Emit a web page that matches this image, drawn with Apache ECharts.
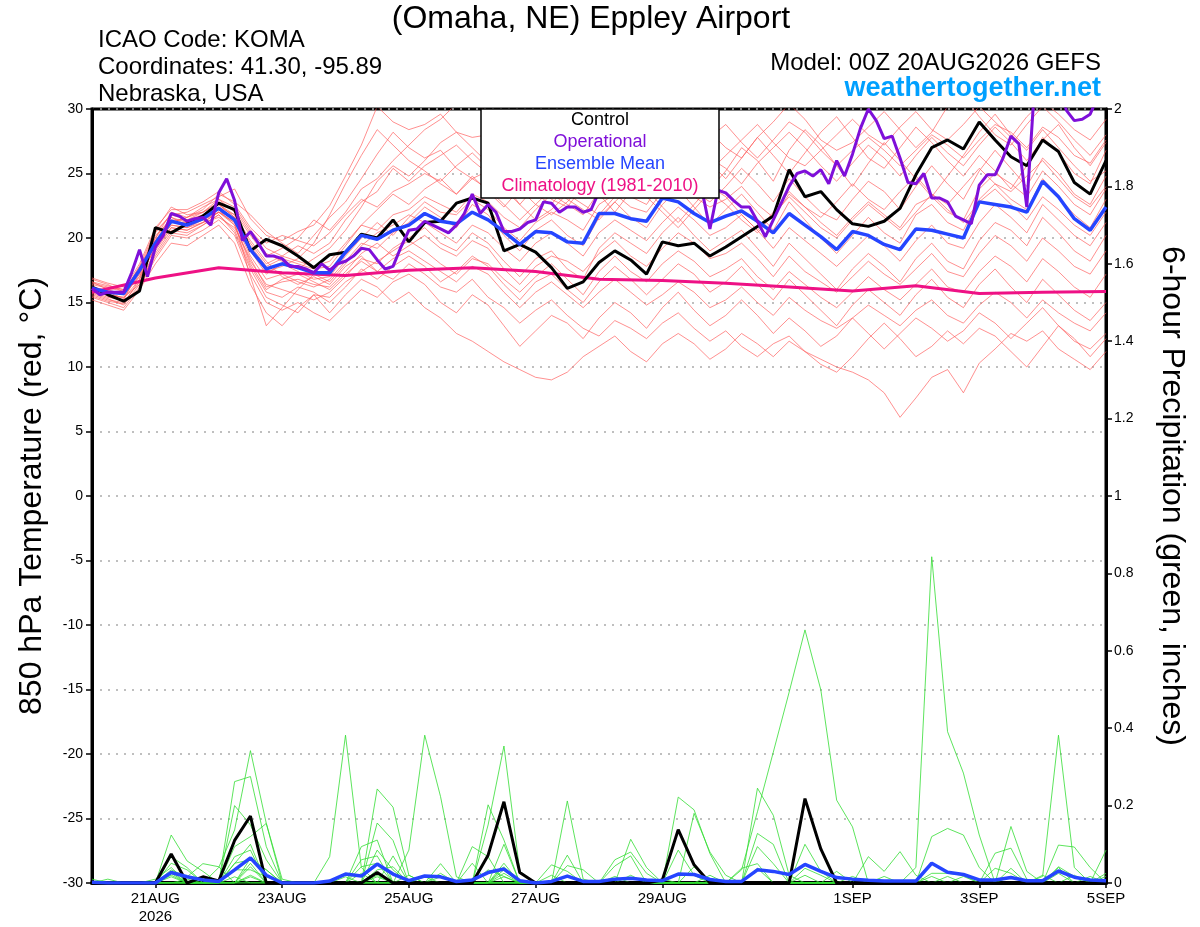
<!DOCTYPE html>
<html><head><meta charset="utf-8">
<script src="https://cdn.jsdelivr.net/npm/echarts@6/dist/echarts.min.js"></script>
<style>html,body{margin:0;padding:0;background:#fff;}#c{width:1200px;height:927px;}</style>
</head><body><div id="c"></div>
<script>
// ---------- time axis (hours after 00Z 20AUG2026) ----------
const hours6 = Array.from({length: 65}, (_, k) => k * 6);
const hours3 = Array.from({length: 129}, (_, k) => k * 3);
const climHours = Array.from({length: 17}, (_, k) => k * 24);
const xTickHours = [24, 72, 120, 168, 216, 288, 336, 384];
const xTickLabels = ['21AUG\n2026', '23AUG', '25AUG', '27AUG', '29AUG', '1SEP', '3SEP', '5SEP'];

// ---------- 850 hPa temperature (C) ----------
const controlTemp = [16.2,15.6,15.1,15.9,20.8, 20.4,21.1,21.7,22.7,22.2, 19.0,19.9,19.4,18.6,17.7, 18.7,18.9,20.3,20.0,21.4, 19.7,21.2,21.3,22.7,23.1, 22.7,19.0,19.5,18.9,17.7, 16.1,16.6,18.1,19.0,18.3, 17.2,19.7,19.4,19.6,18.6, 19.3,20.1,20.9,21.7,25.3, 23.2,23.6,22.2,21.1,20.9, 21.3,22.3,24.9,27.0,27.6, 26.9,29.0,27.6,26.3,25.6, 27.6,26.7,24.3,23.4,26.0];
const meanTemp = [16.1,15.8,15.7,17.5,19.6, 21.3,21.0,21.5,22.3,21.4, 19.1,17.6,18.0,17.7,17.3, 17.3,18.9,20.2,19.9,20.6, 21.0,21.9,21.3,21.1,22.0, 21.4,20.5,19.5,20.5,20.4, 19.7,19.6,21.9,21.9,21.5, 21.3,23.1,22.8,21.9,21.2, 21.7,22.1,21.3,20.4,21.9, 21.0,20.1,19.1,20.5,20.2, 19.5,19.1,20.7,20.6,20.3, 20.0,22.8,22.6,22.4,22.0, 24.4,23.2,21.5,20.6,22.4];
const operationalTemp = [16.1,15.6,15.8,15.8,15.8,17.3,19.1,17.0,19.3,20.2, 21.9,21.7,21.3,21.5,21.6,21.0,23.5,24.6,22.9,19.8, 20.5,19.6,18.6,18.6,18.4,17.8,17.8,17.6,17.3,18.0, 17.5,18.0,18.2,18.6,19.2,19.1,18.3,17.6,17.8,19.3, 20.6,20.7,21.3,21.0,20.7,20.4,21.0,21.9,23.4,21.9, 22.6,22.0,20.5,20.5,20.7,21.2,21.4,22.8,22.7,22.0, 22.4,22.4,22.0,22.2,23.6,24.0,24.5,24.8,24.3,24.6, 25.0,24.7,24.2,24.5,24.8,24.4,24.0,23.7,20.7,23.7, 23.5,22.9,22.4,22.4,21.3,20.1,21.4,22.7,24.0,25.0, 25.2,24.8,25.3,24.2,26.0,24.8,26.5,28.5,30.0,29.1, 27.7,27.9,26.2,24.3,24.2,25.0,23.1,23.1,22.8,21.7, 21.4,21.1,24.1,24.9,24.9,26.2,27.9,27.3,22.4,32.0, 33.0,33.0,32.0,29.9,29.1,29.2,29.6,31.0,31.5];
const climatologyTemp = [15.8,16.9,17.7,17.3,17.1,17.5,17.7,17.4,16.8,16.7,16.5,16.2,15.9,16.3,15.7,15.8,15.85];

const tempM01 = [16.5,16.2,16.0,17.2,20.5, 21.8,22.0,22.6,23.2,23.8, 21.5,20.2,19.8,20.5,21.0, 22.5,24.8,27.2,30.2,29.0, 28.4,28.8,29.6,28.2,27.8, 28.0,26.5,27.2,25.6,24.8, 26.0,27.5,28.8,27.6,26.4, 25.8,27.4,28.6,29.8,28.2, 27.0,26.2,27.8,29.0,30.4, 29.2,27.6,26.8,27.4,28.6, 29.8,28.4,27.0,28.2,30.2, 31.0,29.4,28.0,27.2,28.8, 30.2,29.0,27.6,26.4,28.0];
const tempM02 = [15.8,15.4,15.2,16.0,19.2, 21.2,21.6,22.2,23.4,22.8, 21.8,20.5,19.6,18.8,20.2, 21.6,22.8,24.6,26.5,28.2, 27.0,26.2,26.8,25.4,24.6, 25.2,23.8,22.6,24.0,25.6, 26.8,25.4,24.2,26.0,28.4, 29.6,30.4,28.8,27.2,25.8, 24.6,26.2,27.8,26.4,25.0, 26.6,28.2,29.4,27.8,26.2, 25.4,27.0,28.6,27.4,26.0, 24.8,26.4,25.2,23.8,25.6, 27.8,26.6,25.0,24.2,26.8];
const tempM03 = [16.8,16.4,15.8,17.8,20.6, 22.4,21.8,22.0,23.0,22.0, 20.2,18.6,19.2,20.0,21.4, 20.6,22.0,23.8,24.6,26.0, 27.2,28.4,29.2,30.4,30.8, 29.6,27.8,25.4,24.2,23.0, 22.4,24.0,25.6,24.8,23.2, 22.6,24.4,26.2,25.0,23.8, 25.2,27.0,26.0,24.4,26.8, 28.4,27.2,25.6,24.0,25.8, 27.4,26.0,24.6,23.2,24.8, 26.4,28.2,29.6,28.0,26.8, 28.4,27.0,25.6,24.4,25.2];
const tempM04 = [16.2,15.9,15.6,17.0,19.8, 21.6,21.2,21.8,22.6,21.6, 19.4,17.8,18.4,18.0,17.6, 17.8,19.4,21.0,22.2,23.4, 22.6,23.8,24.6,23.4,24.8, 23.6,22.4,23.8,22.6,21.8, 22.8,24.2,23.4,22.0,23.6, 24.8,26.2,25.0,23.6,22.8, 24.0,25.4,24.2,22.8,24.6, 23.2,22.0,21.4,23.0,24.4, 23.6,22.2,24.0,25.6,24.2, 23.0,25.2,26.8,25.4,24.0, 26.2,25.0,23.4,22.6,24.8];
const tempM05 = [15.6,15.2,15.0,16.6,19.0, 20.8,20.6,21.2,22.0,21.2, 18.6,16.8,17.2,16.6,16.2, 16.8,18.2,19.6,19.2,20.4, 21.2,22.4,21.6,20.8,22.6, 21.8,20.2,19.0,20.6,21.4, 20.2,19.4,21.6,22.8,21.6, 20.8,22.6,23.8,22.4,21.0, 22.2,23.4,22.0,20.6,22.8, 21.4,20.0,18.8,20.2,21.6, 20.4,19.6,21.8,22.6,21.2, 20.6,23.0,24.2,23.0,22.2, 24.6,23.2,21.8,20.8,23.0];
const tempM06 = [16.0,15.5,15.2,17.6,19.4, 21.0,20.8,21.4,22.2,21.0, 18.2,16.4,16.0,15.6,15.2, 15.8,17.0,18.4,18.0,19.2, 20.0,20.8,19.6,19.0,20.4, 19.6,18.2,17.0,18.4,19.0, 17.6,16.8,19.2,20.4,19.6, 18.8,20.4,21.6,20.2,19.0, 19.8,20.6,19.2,17.8,19.6, 18.4,17.2,16.0,17.6,18.8, 17.8,16.6,18.4,19.6,18.2, 17.6,19.8,21.2,20.6,19.4, 21.6,20.4,19.0,18.2,20.2];
const tempM07 = [15.4,15.0,14.6,16.2,18.4, 20.2,20.0,20.6,21.4,20.2, 17.2,15.0,14.4,15.0,14.2, 13.6,14.8,16.0,15.4,16.6, 17.2,16.4,15.0,14.2,15.6, 14.8,13.2,11.6,12.8,14.0, 13.4,12.2,13.8,15.0,14.2, 13.0,14.6,15.8,14.4,13.2, 14.0,15.2,14.0,12.6,13.8, 12.8,11.6,12.4,13.8,12.6, 11.4,12.6,13.8,13.0,12.0, 12.8,14.2,13.4,12.2,13.4, 14.6,13.2,12.0,11.4,12.6];
const tempM08 = [15.2,14.8,14.4,16.0,18.0, 19.6,19.4,20.2,21.0,19.6, 16.4,14.2,13.2,14.6,15.6, 14.2,15.6,16.8,16.2,15.0, 15.8,14.6,13.8,12.6,12.0, 11.2,10.4,9.8,9.2,9.0, 9.6,10.8,11.6,12.4,11.2, 10.4,11.8,12.6,11.8,10.6, 11.4,12.6,11.8,10.8,12.0, 11.2,10.2,9.6,10.8,12.2, 13.4,12.2,10.8,11.6,12.8, 11.8,13.0,12.4,11.2,10.0, 11.6,13.2,12.2,10.8,12.2];
const tempM09 = [16.6,16.0,15.6,17.4,20.2, 21.4,21.0,21.6,22.4,21.8, 19.8,18.2,17.0,16.4,17.0, 16.4,17.8,18.6,17.4,16.8, 18.0,17.2,16.2,15.8,16.8, 15.4,14.6,13.4,14.4,15.2, 14.0,13.0,12.4,13.6,13.0, 12.2,13.4,14.2,13.0,12.0, 12.8,11.6,10.8,11.8,12.4, 11.2,10.6,10.0,9.6,9.0, 8.0,6.1,7.6,9.2,9.8, 8.0,10.3,11.4,12.6,12.0, 12.8,11.4,10.6,9.8,11.2];
const tempM10 = [15.8,15.6,15.4,16.4,18.6, 20.4,20.2,21.0,21.8,20.6, 17.8,15.8,15.4,16.2,15.8, 15.0,16.2,17.6,16.8,17.8, 18.6,17.8,16.6,17.4,18.6, 17.8,16.4,15.2,16.6,17.2, 16.0,15.0,16.6,17.8,16.8, 15.6,16.8,18.0,17.2,15.8, 16.6,17.8,16.4,15.2,16.8, 15.6,14.4,13.2,14.8,16.0, 15.0,14.0,15.6,16.8,15.4, 14.6,16.4,17.6,16.2,15.0, 16.8,15.6,14.4,13.6,15.0];
const tempM11 = [16.4,16.1,15.9,17.6,20.0, 22.0,21.6,22.4,23.0,22.4, 20.6,19.2,18.6,19.4,18.8, 19.6,21.4,22.8,23.6,25.4, 24.4,25.6,26.4,27.2,26.0, 25.0,26.6,24.8,23.4,22.6, 24.2,25.8,26.6,25.2,24.0, 23.2,24.8,26.4,27.6,26.2, 25.4,24.2,25.8,27.0,28.2, 27.0,25.6,24.4,25.8,27.2, 26.2,24.8,26.4,27.8,26.6, 25.6,27.2,28.6,27.4,26.0, 27.6,28.8,27.0,25.6,27.4];
const tempM12 = [15.9,15.7,15.8,17.8,19.8, 21.2,21.2,21.4,22.0,21.6, 19.0,17.2,18.0,17.4,16.8, 17.0,18.6,20.0,21.2,20.2, 21.6,22.8,22.0,21.8,23.0, 22.2,20.8,19.8,21.2,22.0, 21.4,20.6,22.6,23.4,22.4, 22.0,23.6,24.4,23.2,22.4, 23.0,24.0,22.6,21.6,23.4, 22.4,21.2,20.2,21.6,22.8, 21.8,20.8,22.6,23.2,22.0, 21.4,23.8,25.0,24.2,23.2, 25.2,24.0,22.6,21.8,23.8];
const tempM13 = [16.3,15.8,15.3,16.8,19.6, 21.0,20.8,21.2,21.6,20.8, 18.4,16.2,16.6,16.8,16.4, 16.2,17.4,18.8,19.6,18.6, 19.4,20.2,19.2,18.6,19.8, 19.2,17.6,16.4,17.8,18.6, 18.2,17.4,18.8,19.8,18.6, 17.8,19.2,20.4,19.6,18.4, 18.8,19.6,18.4,17.0,18.6, 17.4,16.6,15.8,17.0,18.2, 17.2,16.4,17.6,18.8,17.4, 17.0,18.8,20.2,19.4,18.2, 20.0,19.0,17.8,17.2,19.0];
const tempM14 = [16.1,15.6,15.4,17.2,19.2, 21.4,21.4,22.0,22.8,22.2, 20.4,18.8,18.2,17.6,18.4, 19.2,20.6,22.4,24.4,25.6, 24.8,26.0,27.4,28.2,27.0, 25.8,24.2,22.6,21.4,22.2, 23.4,22.6,21.8,23.2,24.6, 23.8,22.4,21.2,22.6,24.0, 23.2,21.8,20.6,22.0,23.6, 22.4,21.6,22.8,24.2,23.0, 22.2,23.6,24.8,23.4,22.6, 24.0,25.4,24.2,23.6,24.8, 26.0,24.6,23.2,22.4,24.0];
const tempM15 = [15.7,15.3,14.8,16.4,18.8, 20.6,20.4,21.0,21.8,20.4, 17.6,15.4,14.8,14.2,15.6, 15.4,16.6,17.4,18.2,19.0, 19.8,19.0,18.0,17.2,18.4, 18.0,16.8,15.8,17.0,18.0, 16.8,15.6,17.4,18.6,17.4, 16.6,18.0,19.0,18.2,17.0, 17.6,18.4,17.0,16.0,17.4, 16.4,15.4,14.6,15.8,17.0, 16.0,15.2,16.4,17.6,16.2, 15.8,17.4,18.6,17.8,16.6, 18.4,17.4,16.2,15.4,17.2];
const tempM16 = [16.0,15.8,15.6,17.6,20.4, 21.8,21.4,21.8,22.6,21.6, 19.6,18.0,18.6,18.2,17.8, 18.2,19.6,21.0,20.6,21.8, 22.2,23.2,22.6,22.0,23.4, 22.8,21.6,20.8,22.2,23.4, 22.6,21.8,23.6,25.0,26.2, 25.4,26.8,27.8,26.6,25.2, 26.4,27.6,28.8,27.4,26.2, 25.6,26.8,28.0,29.2,28.0, 27.2,28.6,29.8,28.4,27.6, 28.8,30.2,29.0,27.8,29.4, 30.6,29.6,28.4,27.6,29.2];
const tempM17 = [16.9,16.5,16.2,17.4,20.0, 21.6,21.0,21.4,22.0,21.2, 17.0,13.2,14.6,16.0,17.2, 16.6,18.0,19.4,20.4,21.0, 21.8,21.2,20.4,19.6,21.0, 20.4,19.2,18.2,19.6,20.4, 19.6,18.6,20.4,21.4,20.6, 19.8,21.2,22.4,21.4,20.2, 20.8,21.8,20.6,19.2,20.8, 19.8,18.8,17.8,19.0,20.2, 19.4,18.2,19.8,21.0,19.6, 19.2,21.2,22.6,21.6,20.4, 22.6,21.4,20.2,19.4,21.2];
const tempM18 = [15.5,15.1,14.9,16.8,19.4, 21.2,21.6,22.0,22.6,21.8, 19.2,17.4,17.8,18.4,19.6, 21.8,24.2,26.4,28.4,27.2, 26.0,25.2,24.2,23.4,24.6, 23.8,22.6,21.4,22.6,23.8, 23.0,22.2,21.4,22.8,24.0, 23.2,22.0,20.8,22.2,23.6, 22.6,21.4,20.4,21.8,23.2, 22.0,20.8,20.0,21.4,22.6, 21.6,20.6,22.0,23.4,22.2, 21.2,22.8,23.8,22.6,21.4, 23.2,22.2,21.0,20.2,22.0];
const tempM19 = [16.2,15.9,15.7,17.0,19.2, 20.8,20.6,21.2,22.0,21.0, 18.0,16.0,16.8,17.2,16.6, 16.0,17.2,18.2,17.4,18.4, 19.0,18.2,17.4,16.6,17.8, 17.2,15.8,14.6,15.8,16.6, 15.6,14.6,15.8,16.8,15.8, 14.8,15.6,16.6,15.8,14.6, 15.2,16.2,15.0,14.0,15.4, 14.4,13.6,13.0,13.8,14.8, 14.0,13.2,14.4,15.2,14.0, 13.4,14.8,15.8,15.0,13.8, 15.2,14.2,13.4,12.8,14.2];
const tempM20 = [16.6,16.3,16.0,18.0,20.8, 22.2,22.2,22.8,23.6,22.6, 20.8,19.6,20.2,19.8,19.4, 20.4,21.8,23.0,22.4,23.6, 24.2,25.0,24.4,25.6,26.6, 25.4,24.0,25.8,27.4,28.6, 29.2,30.4,29.0,27.6,28.8, 30.2,29.4,28.0,26.8,27.8, 28.8,27.4,26.2,27.6,29.0, 28.2,26.8,25.6,26.8,27.8, 26.8,25.6,26.8,28.0,27.2, 26.2,27.6,28.8,28.2,27.0, 28.6,27.8,26.4,25.8,27.6];
const tempMembers = [tempM01,tempM02,tempM03,tempM04,tempM05,tempM06,tempM07,tempM08,tempM09,tempM10,tempM11,tempM12,tempM13,tempM14,tempM15,tempM16,tempM17,tempM18,tempM19,tempM20];

// ---------- 6-hour precipitation (inches) ----------
const controlPrecip = [0,0,0,0,0, .075,0,.016,.005,.11, .173,0,0,0,0, 0,0,0,.027,0, 0,0,0,0,0, .072,.21,.027,0,0, 0,0,0,0,0, 0,.008,.138,.047,0, 0,0,0,0,0, .218,.088,0,0,0, 0,0,0,0,0, 0,0,0,0,0, 0,0,0,0,0];
const meanPrecip = [.002,0,0,0,0, .027,.016,.008,.004,.034, .065,.02,0,0,0, .005,.023,.018,.049,.023, .006,.018,.016,.004,.008, .027,.036,.006,0,.004, .018,.004,.004,.01,.012, .008,.006,.023,.022,.009, .004,.004,.034,.03,.022, .048,.03,.014,.01,.007, .005,.005,.005,.051,.028, .022,.008,.008,.014,.006, .006,.031,.015,.008,.006];
const precM01 = [0,0,0,0,0, 0,0,0,0,.05, .1,0,0,0,0, 0,0,0,0,0, 0,0,0,0,0, 0,0,0,0,0, 0,0,0,0,0, 0,0,0,0,0, 0,.034,.184,.338,.493, .654,.499,.214,.145,0, 0,0,0,0,0, 0,0,0,0,0, 0,.04,0,0,0];
const precM02 = [0,0,0,0,0, .03,0,0,0,0, 0,0,0,0,0, 0,0,0,0,0, 0,0,0,0,0, .15,.354,.03,0,0, 0,0,0,0,0, 0,0,0,0,0, 0,0,0,0,0, 0,0,0,0,0, 0,0,.04,.843,.391, .284,.124,0,0,0, 0,0,0,0,0];
const precM03 = [0,0,0,0,0, 0,0,0,.04,.137, .342,.154,0,0,0, 0,0,0,0,0, .085,.382,.223,.016,0, 0,0,0,0,0, 0,0,0,0,0, 0,0,0,0,0, 0,0,0,0,0, 0,0,0,0,0, 0,0,0,0,0, 0,0,0,0,0, .017,.382,.04,0,0];
const precM04 = [0,0,0,0,0, 0,0,0,0,.262, .275,.094,0,0,0, .068,.382,.04,0,0, 0,0,0,0,0, 0,0,0,0,0, .212,.01,0,0,0, 0,0,.222,.189,.076, 0,0,0,0,0, 0,0,0,0,0, 0,0,0,0,0, 0,0,0,0,0, 0,0,0,0,0];
const precM05 = [0,0,0,0,0, .124,.057,.03,0,0, 0,0,0,0,0, 0,0,0,.243,.196, .02,0,0,0,0, 0,0,0,0,0, 0,0,0,0,0, 0,0,0,0,0, 0,0,.245,.175,.02, 0,0,0,0,0, 0,0,0,0,0, 0,0,0,.146,.03, 0,0,0,0,0];
const precM06 = [0,0,0,0,0, .068,.04,0,0,.2, .15,.06,0,0,0, 0,0,0,.155,.11, 0,0,0,0,0, .202,.111,0,0,0, 0,0,0,0,.113, .04,0,0,0,0, 0,0,0,0,0, 0,0,0,0,0, 0,0,0,.12,.141, .124,.04,0,0,0, 0,0,0,0,0];
const precM07 = [0,0,0,0,0, 0,0,0,0,.094, .12,.154,.01,0,0, 0,0,.094,.111,0, 0,0,0,0,0, 0,.1,0,0,0, .072,0,0,0,0, 0,0,.137,.046,0, 0,0,.128,.1,0, 0,0,0,0,0, 0,0,0,0,0, 0,0,0,0,0, 0,0,0,0,.085];
const precM08 = [0,0,0,0,0, .051,.034,0,0,.068, .085,0,0,0,0, 0,0,.06,.07,0, 0,0,0,0,.094, .068,0,0,0,.047, .03,0,0,0,0, 0,0,0,0,0, 0,0,0,0,0, .1,.03,0,0,0, 0,0,0,0,0, 0,0,0,0,0, 0,.098,.093,.04,0];
const precM09 = [0,0,0,0,.01, .04,0,0,0,0, .064,.034,0,0,0, 0,.016,0,0,.07, 0,0,.05,0,0, 0,.051,0,0,0, 0,0,0,.044,.07, 0,0,0,0,0, 0,0,0,0,0, 0,0,0,0,.068, .03,.081,.02,0,0, 0,0,.077,.09,.01, 0,0,0,0,0];
const precM10 = [0,.01,0,0,0, .034,.016,.05,.042,0, .051,0,0,0,0, 0,0,0,.085,.034, 0,.016,0,0,0, 0,.034,0,0,0, .02,0,0,0,0, 0,0,0,.18,.08, .02,0,0,0,0, 0,0,0,0,0, 0,0,0,.025,.025, .02,0,0,0,0, 0,0,0,0,.017];
const precM11 = [0,0,0,0,0, .02,0,0,0,0, .042,0,0,0,0, 0,0,.042,.051,0, 0,0,.016,0,0, .034,.017,0,0,0, 0,0,0,0,.02, 0,0,0,0,0, 0,0,.094,.05,0, 0,0,.03,0,0, 0,0,0,0,0, 0,0,0,.038,0, 0,.042,.017,0,0];
const precM12 = [0,0,0,0,0, 0,0,0,0,.034, .034,.016,0,0,0, 0,0,0,.034,.042, 0,0,0,0,0, 0,.042,0,0,0, 0,0,0,.017,0, 0,0,.085,.02,0, 0,0,0,0,0, 0,0,0,0,0, .017,0,0,.017,0, 0,0,.038,.025,0, 0,0,0,0,0];
const precM13 = [0,0,0,0,0, .016,0,0,0,.016, 0,0,0,0,0, 0,0,0,.02,0, 0,0,0,0,.051, 0,0,0,0,0, .045,.034,0,0,0, 0,0,0,0,0, 0,0,.038,0,0, .02,0,0,0,0, 0,0,0,0,.017, 0,0,0,0,0, 0,.025,0,0,.025];
const precM14 = [.01,0,0,0,0, 0,0,0,0,0, .02,0,0,0,0, 0,0,.025,0,0, 0,0,0,0,0, 0,.025,0,0,.02, 0,0,0,0,0, 0,0,0,0,.02, 0,.038,.05,0,0, 0,0,0,0,0, 0,0,0,0,0, .017,0,0,0,0, 0,0,.02,0,0];
const precM15 = [0,0,0,0,0, 0,.01,0,0,0, .016,0,0,0,0, 0,0,0,.016,0, 0,0,.025,0,0, 0,0,0,0,0, 0,0,0,.06,.08, .025,0,0,0,0, 0,0,0,0,0, 0,0,0,.017,0, 0,0,0,0,0, 0,0,0,0,0, .02,0,0,0,0];
const precM16 = [0,0,0,0,0, .025,0,0,0,.051, .06,.034,0,0,0, 0,0,0,0,0, .02,0,0,0,0, 0,.016,0,0,0, 0,0,0,0,0, 0,.01,0,.042,0, 0,0,0,0,0, .038,.02,0,0,0, 0,0,0,0,0, 0,0,0,.017,0, 0,0,0,.017,0];
const precipMembers = [precM01,precM02,precM03,precM04,precM05,precM06,precM07,precM08,precM09,precM10,precM11,precM12,precM13,precM14,precM15,precM16];

// ---------- text ----------
const titleText = '(Omaha, NE) Eppley Airport';
const infoLines = ['ICAO Code: KOMA', 'Coordinates: 41.30, -95.89', 'Nebraska, USA'];
const modelText = 'Model: 00Z 20AUG2026 GEFS';
const siteText = 'weathertogether.net';
const legendNames = ['Control', 'Operational', 'Ensemble Mean', 'Climatology (1981-2010)'];
const leftAxisTitle = '850 hPa Temperature (red, °C)';
const rightAxisTitle = '6-hour Precipitation (green, inches)';

// ---------- colours ----------
const C_MEMBER = '#ff5a5a', C_PRECIP = '#33dd33', C_CONTROL = '#000000', C_OPER = '#7f0fd9', C_MEAN = '#2545ff', C_CLIM = '#ee1185';
const FONT = 'Liberation Sans, Arial, Helvetica, sans-serif';

const pairs = (xs, ys) => ys.map((v, k) => [xs[k], v]);
const series = [];
tempMembers.forEach((m, k) => series.push({
  name: 'tm' + k, type: 'line', yAxisIndex: 0, data: pairs(hours6, m), showSymbol: false, silent: true,
  lineStyle: {color: C_MEMBER, width: 0.8, opacity: 0.85}, z: 2
}));
precipMembers.forEach((m, k) => series.push({
  name: 'pm' + k, type: 'line', yAxisIndex: 1, data: pairs(hours6, m), showSymbol: false, silent: true,
  lineStyle: {color: C_PRECIP, width: 0.8}, z: 2
}));
const mainLine = (name, xs, ys, axis, color, width, z) => ({
  name, type: 'line', yAxisIndex: axis, data: pairs(xs, ys), showSymbol: false, silent: true,
  lineStyle: {color, width}, z
});
series.push(mainLine('Climatology', climHours, climatologyTemp, 0, C_CLIM, 3, 3));
series.push(mainLine('ControlP', hours6, controlPrecip, 1, C_CONTROL, 3, 4));
series.push(mainLine('MeanP', hours6, meanPrecip, 1, C_MEAN, 3.5, 5));
series.push(mainLine('Control', hours6, controlTemp, 0, C_CONTROL, 3, 4));
series.push(mainLine('Mean', hours6, meanTemp, 0, C_MEAN, 3.5, 5));
series.push(mainLine('Operational', hours3, operationalTemp, 0, C_OPER, 3, 6));

const legendColors = [C_CONTROL, C_OPER, C_MEAN, C_CLIM];
const graphic = [
  {type: 'text', x: 591, y: 3, z: 60, style: {text: titleText, align: 'center', verticalAlign: 'top', font: '32px ' + FONT, fill: '#000'}},
  {type: 'text', x: 98, y: 28, z: 60, style: {text: infoLines[0], align: 'left', verticalAlign: 'top', font: '24px ' + FONT, fill: '#000'}},
  {type: 'text', x: 98, y: 55, z: 60, style: {text: infoLines[1], align: 'left', verticalAlign: 'top', font: '24px ' + FONT, fill: '#000'}},
  {type: 'text', x: 98, y: 82, z: 60, style: {text: infoLines[2], align: 'left', verticalAlign: 'top', font: '24px ' + FONT, fill: '#000'}},
  {type: 'text', x: 1101, y: 51, z: 60, style: {text: modelText, align: 'right', verticalAlign: 'top', font: '24px ' + FONT, fill: '#000'}},
  {type: 'text', x: 1101, y: 75, z: 60, style: {text: siteText, align: 'right', verticalAlign: 'top', font: 'bold 27px ' + FONT, fill: '#00a0ff'}},
  {type: 'rect', z: 50, shape: {x: 481, y: 109, width: 238, height: 89}, style: {fill: '#fff', stroke: '#000', lineWidth: 1.5}}
];
legendNames.forEach((t, k) => graphic.push({
  type: 'text', x: 600, y: 120 + k * 22, z: 60,
  style: {text: t, align: 'center', verticalAlign: 'middle', font: '18px ' + FONT, fill: legendColors[k]}
}));

const chart = echarts.init(document.getElementById('c'), null, {renderer: 'canvas'});
chart.setOption({
  animation: false,
  backgroundColor: '#fff',
  grid: {left: 92, right: 94, top: 109, bottom: 44, show: true, borderColor: '#000', borderWidth: 3, backgroundColor: 'transparent'},
  xAxis: {
    type: 'value', min: 0, max: 384,
    axisLine: {show: true, onZero: false, lineStyle: {color: '#000', width: 4}},
    axisTick: {show: true, customValues: xTickHours, length: 5, lineStyle: {color: '#000', width: 1.5}},
    axisLabel: {show: true, customValues: xTickHours, margin: 7, color: '#000', fontSize: 15, fontFamily: FONT, lineHeight: 18,
      formatter: v => xTickLabels[xTickHours.indexOf(Math.round(v))] || ''},
    splitLine: {show: false}
  },
  yAxis: [
    {
      type: 'value', min: -30, max: 30, interval: 5, position: 'left',
      name: leftAxisTitle, nameLocation: 'middle', nameGap: 44, nameRotate: 90,
      nameTextStyle: {fontSize: 32, fontFamily: FONT, color: '#000'},
      axisLine: {show: true, onZero: false, lineStyle: {color: '#000', width: 3}},
      axisTick: {show: true, length: 6, lineStyle: {color: '#000', width: 1.5}},
      axisLabel: {margin: 9, color: '#000', fontSize: 14, fontFamily: FONT},
      splitLine: {show: true, lineStyle: {color: '#aaaaaa', type: [2, 6], width: 1.5}}
    },
    {
      type: 'value', min: 0, max: 2, interval: 0.2, position: 'right',
      name: rightAxisTitle, nameLocation: 'middle', nameGap: 50, nameRotate: -90,
      nameTextStyle: {fontSize: 32, fontFamily: FONT, color: '#000'},
      axisLine: {show: true, onZero: false, lineStyle: {color: '#000', width: 3}},
      axisTick: {show: true, length: 6, lineStyle: {color: '#000', width: 1.5}},
      axisLabel: {margin: 8, color: '#000', fontSize: 14, fontFamily: FONT, formatter: v => String(Math.round(v * 10) / 10)},
      splitLine: {show: false}
    }
  ],
  graphic: graphic,
  series: series
});
</script>
</body></html>
